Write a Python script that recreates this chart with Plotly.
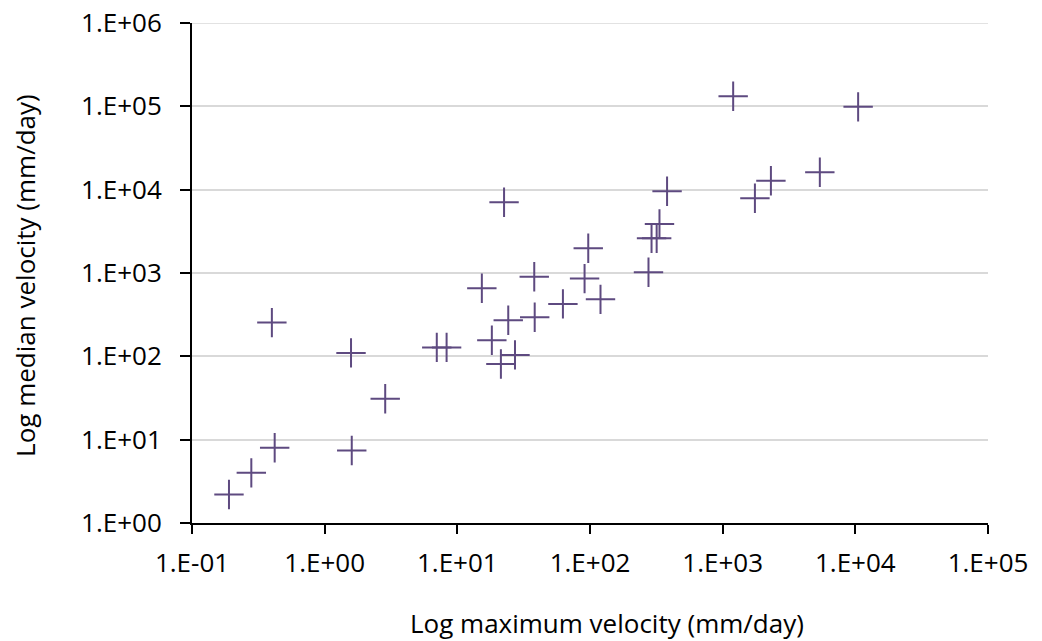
import plotly.graph_objects as go

# Data
max_velocity = [0.19, 0.28, 0.42, 0.40, 1.58, 1.6, 2.86, 7.0, 8.3, 22.5, 15.3,
                18.2, 21.3, 27.2, 24.2, 38.3, 38.0, 62.5, 91, 97, 120, 276,
                291, 318, 334, 381, 1200, 10500, 1750, 2310, 5400]
median_velocity = [2.2, 4.0, 8.0, 254, 110, 7.4, 31, 128, 128, 7060, 655,
                   156, 81, 104, 271, 294, 900, 426, 857, 1980, 483, 1020,
                   2610, 2610, 3880, 9570, 132000, 98600, 7900, 12800, 16200]

x_tick_vals = [1e-1, 1e0, 1e1, 1e2, 1e3, 1e4, 1e5]
x_tick_text = ["1.E-01", "1.E+00", "1.E+01", "1.E+02", "1.E+03", "1.E+04", "1.E+05"]
y_tick_vals = [1e0, 1e1, 1e2, 1e3, 1e4, 1e5, 1e6]
y_tick_text = ["1.E+00", "1.E+01", "1.E+02", "1.E+03", "1.E+04", "1.E+05", "1.E+06"]

x_title = "Log maximum velocity (mm/day)"
y_title = "Log median velocity (mm/day)"

FONT = "Open Sans"
FS = 26
MARK = "#5E4A80"
GRID = "#d9d9d9"

fig = go.Figure()
fig.add_trace(go.Scatter(
    x=max_velocity, y=median_velocity, mode="markers",
    marker=dict(symbol="cross-thin", size=21,
                line=dict(color=MARK, width=2), color=MARK),
    showlegend=False, hoverinfo="x+y",
))

# top gridline (plotly hides gridlines lying on the plot edge)
fig.add_hline(y=y_tick_vals[-1], line=dict(color=GRID, width=1.5), layer="below")

fig.update_layout(
    width=1026, height=633,
    margin=dict(l=184, r=46, t=15, b=118, autoexpand=False),
    paper_bgcolor="white", plot_bgcolor="white",
    font=dict(family=FONT, size=FS, color="black"),
    xaxis=dict(
        type="log", range=[-1, 5], automargin=False,
        tickvals=x_tick_vals, ticktext=x_tick_text,
        showgrid=False, zeroline=False,
        showline=True, linecolor="black", linewidth=2,
        ticks="outside", ticklen=9, tickwidth=2, tickcolor="black",
        ticklabelstandoff=7, ticklabeloverflow="allow",
        tickfont=dict(family=FONT, size=FS, color="black"),
    ),
    yaxis=dict(
        type="log", range=[0, 6], automargin=False,
        tickvals=y_tick_vals, ticktext=y_tick_text,
        showgrid=True, gridcolor=GRID, gridwidth=1.5,
        zeroline=False,
        showline=True, linecolor="black", linewidth=2,
        ticks="outside", ticklen=10, tickwidth=2, tickcolor="black",
        ticklabelstandoff=13, ticklabeloverflow="allow",
        tickfont=dict(family=FONT, size=FS, color="black"),
    ),
    annotations=[
        dict(text=x_title, xref="paper", yref="paper", x=0.521, y=-0.199,
             xanchor="center", yanchor="middle", showarrow=False,
             font=dict(family=FONT, size=FS, color="black")),
        dict(text=y_title, xref="paper", yref="paper", x=-0.209, y=0.4955,
             xanchor="center", yanchor="middle", showarrow=False, textangle=-90,
             font=dict(family=FONT, size=FS, color="black")),
    ],
)

fig.write_html("out.html")
